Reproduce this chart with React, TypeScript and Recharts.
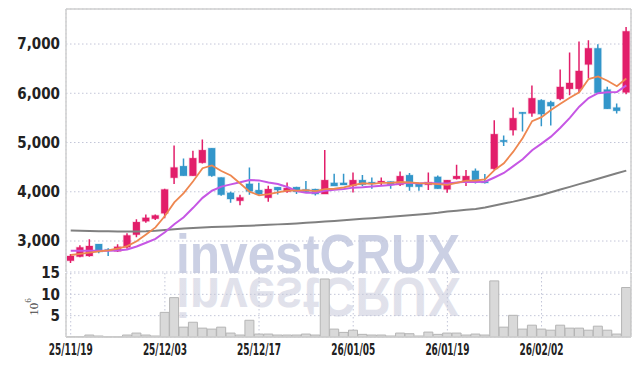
import React from "react";
import {
  ComposedChart,
  Bar,
  Line,
  XAxis,
  YAxis,
  CartesianGrid,
  ReferenceLine,
  Label,
} from "recharts";

const dates = [
  "25/11/19","25/11/20","25/11/21","25/11/24","25/11/25","25/11/26","25/11/27","25/11/28","25/12/01","25/12/02",
  "25/12/03","25/12/04","25/12/05","25/12/08","25/12/09","25/12/10","25/12/11","25/12/12","25/12/15","25/12/16",
  "25/12/17","25/12/18","25/12/19","25/12/22","25/12/23","25/12/24","25/12/26","25/12/29","25/12/30","26/01/02",
  "26/01/05","26/01/06","26/01/07","26/01/08","26/01/09","26/01/12","26/01/13","26/01/14","26/01/15","26/01/16",
  "26/01/19","26/01/20","26/01/21","26/01/22","26/01/23","26/01/26","26/01/27","26/01/28","26/01/29","26/01/30",
  "26/02/02","26/02/03","26/02/04","26/02/05","26/02/06","26/02/09","26/02/10","26/02/11","26/02/12","26/02/13",
];

const opens = [
  2600, 2682, 2696, 2939, 2830, 2791, 2872, 3128, 3400, 3452,
  3562, 4284, 4521, 4324, 4588, 4886, 4292, 3980, 3817, 4162,
  4034, 3878, 4095, 4000, 4095, 4048, 4055, 3953, 4182, 4182,
  4122, 4237, 4196, 4190, 4210, 4142, 4338, 4170, 4142, 4304,
  4048, 4263, 4210, 4426, 4210, 4466, 5048, 5251, 5616, 5590,
  5860, 5819, 5886, 6089, 6089, 6584, 6914, 6076, 5711, 6016,
];
const highs = [
  2736, 2912, 3034, 2939, 2852, 2933, 3156, 3440, 3541, 3540,
  4060, 4941, 4677, 4831, 5062, 4886, 4292, 4000, 3940, 4494,
  4182, 4122, 4095, 4190, 4100, 4217, 4060, 4846, 4365, 4365,
  4393, 4338, 4292, 4292, 4210, 4413, 4380, 4170, 4393, 4330,
  4237, 4548, 4440, 4474, 4359, 5454, 5143, 5711, 5620, 6157,
  5880, 5850, 6482, 6827, 7050, 7076, 6995, 6130, 5793, 7346,
];
const lows = [
  2554, 2670, 2682, 2750, 2696, 2777, 2844, 3075, 3371, 3426,
  3460, 4156, 4324, 4324, 4575, 4304, 3919, 3777, 3724, 3939,
  3933, 3797, 3946, 3980, 3953, 3990, 3926, 3953, 4115, 4136,
  3987, 4110, 4061, 4115, 4061, 4115, 4020, 4020, 4034, 4061,
  3980, 4250, 4115, 4170, 4170, 4440, 4927, 5143, 5225, 5521,
  5332, 5346, 5860, 5961, 6028, 6300, 6008, 5683, 5590, 5981,
];
const closes = [
  2696, 2872, 2899, 2777, 2810, 2884, 3115, 3385, 3473, 3521,
  4048, 4494, 4324, 4683, 4846, 4324, 3939, 3852, 3886, 4008,
  3953, 4055, 4034, 4075, 4000, 4000, 3953, 4237, 4115, 4136,
  4237, 4142, 4170, 4217, 4142, 4318, 4101, 4101, 4196, 4061,
  4237, 4318, 4318, 4210, 4183, 5170, 5014, 5494, 5596, 5900,
  5575, 5738, 6129, 6210, 6454, 6914, 6008, 5683, 5643, 7259,
];
// volume in millions of shares
const volumes = [
  0.1, 0.1, 0.46, 0.23, 0.05, 0.05, 0.46, 0.92, 0.46, 0.23,
  5.77, 9.23, 2.31, 3.46, 2.08, 1.85, 2.31, 0.92, 0.46, 3.92,
  0.69, 0.69, 0.46, 0.46, 0.46, 0.69, 0.46, 13.6, 1.85, 1.08,
  1.6, 0.62, 0.46, 0.46, 0.23, 0.92, 0.77, 0.23, 1.15, 0.62,
  0.92, 0.92, 0.46, 0.69, 0.46, 13.15, 2.31, 5.08, 1.85, 2.77,
  1.85, 1.6, 2.77, 2.08, 2.08, 1.6, 2.54, 1.6, 0.69, 11.6,
];
const ma5 = [
  2716, 2740, 2765, 2790, 2811, 2848, 2897, 2994, 3133, 3276,
  3508, 3784, 3972, 4214, 4479, 4534, 4423, 4329, 4169, 4002,
  3928, 3951, 3987, 4025, 4023, 4033, 4012, 4053, 4061, 4088,
  4136, 4173, 4160, 4180, 4182, 4198, 4190, 4176, 4172, 4155,
  4139, 4183, 4226, 4229, 4253, 4440, 4579, 4814, 5091, 5435,
  5516, 5661, 5788, 5910, 6021, 6289, 6343, 6254, 6142, 6301,
];
const ma10 = [
  2800, 2800, 2800, 2800, 2802, 2808, 2830, 2890, 2965, 3043,
  3178, 3341, 3483, 3674, 3877, 4021, 4104, 4150, 4192, 4240,
  4231, 4187, 4158, 4097, 4013, 3980, 3982, 4020, 4043, 4056,
  4084, 4093, 4107, 4121, 4135, 4167, 4182, 4168, 4176, 4169,
  4169, 4186, 4201, 4200, 4204, 4290, 4381, 4520, 4660, 4844,
  4978, 5120, 5301, 5501, 5728, 5902, 6002, 6021, 6025, 6161,
];
const ma60 = [
  3212, 3208, 3204, 3200, 3196, 3193, 3192, 3195, 3200, 3210,
  3225, 3240, 3253, 3264, 3274, 3283, 3290, 3296, 3303, 3310,
  3318, 3328, 3338, 3348, 3358, 3370, 3382, 3395, 3406, 3420,
  3436, 3450, 3463, 3477, 3492, 3507, 3522, 3538, 3555, 3572,
  3600, 3617, 3634, 3651, 3680, 3720, 3760, 3800, 3845, 3890,
  3935, 3990, 4045, 4100, 4155, 4210, 4265, 4320, 4375, 4430,
];

const priceTicks = [3000, 4000, 5000, 6000, 7000];
const volumeTicks = [5, 10, 15];

const rows = dates.map((date, i) => ({
  date,
  open: opens[i],
  high: highs[i],
  low: lows[i],
  close: closes[i],
  volume: volumes[i],
  ma5: ma5[i],
  ma10: ma10[i],
  ma60: ma60[i],
}));

const PINK = "#e21e6a";
const BLUE = "#3396ca";
const GRID = "#c3c6d8";
const BORDER = "#cfcfcf";
const FONT = "'Liberation Sans Narrow', 'DejaVu Sans Condensed', sans-serif";

const Candle = (props: any) => {
  const { x, y, width, height, payload } = props;
  if (!payload || x == null || y == null) return null;
  const { open, close, high, low } = payload;
  const up = close >= open;
  const color = up ? PINK : BLUE;
  const range = high - low;
  const ratio = range > 0 ? height / range : 0;
  const top = y + (high - Math.max(open, close)) * ratio;
  const bottom = y + (high - Math.min(open, close)) * ratio;
  const cx = x + width / 2;
  return (
    <g>
      <line x1={cx} x2={cx} y1={y} y2={y + height} stroke={color} strokeWidth={1.5} />
      <rect
        x={x}
        y={top}
        width={width}
        height={Math.max(bottom - top, 1.5)}
        fill={color}
        stroke={color}
        strokeOpacity={0.18}
        strokeWidth={1.5}
      />
    </g>
  );
};

const UnitLabel = (props: any) => {
  const vb = props.viewBox || {};
  const cx = (vb.x || 0) + (vb.width || 0) / 2;
  const cy = (vb.y || 0) + (vb.height || 0) / 2 + 2;
  return (
    <text
      x={cx}
      y={cy}
      transform={`rotate(-90 ${cx} ${cy})`}
      textAnchor="middle"
      dominantBaseline="central"
      fontFamily="'Liberation Serif', 'DejaVu Serif', serif"
      fontSize={13}
      fill="#444"
    >
      10
      <tspan dy={-5} fontSize={9}>
        6
      </tspan>
    </text>
  );
};

const DateTick = (props: any) => {
  const { x, y, payload } = props;
  return (
    <text
      x={x}
      y={y}
      dy="0.71em"
      textAnchor="middle"
      fontFamily={FONT}
      fontSize={15}
      fontWeight={600}
      fill="#222"
      textLength={44}
      lengthAdjust="spacingAndGlyphs"
    >
      {payload.value}
    </text>
  );
};

const tickStyle = { fontFamily: FONT, fontSize: 15, fontWeight: 600, fill: "#222" };

export default function App() {
  return (
    <div
      style={{
        position: "absolute",
        left: 0,
        top: 0,
        width: 639,
        height: 366,
        background: "#fff",
        overflow: "hidden",
      }}
    >
      <svg
        width={639}
        height={366}
        style={{ position: "absolute", left: 0, top: 0 }}
      >
        <defs>
          <linearGradient id="refl" x1="0" y1="276" x2="0" y2="318" gradientUnits="userSpaceOnUse">
            <stop offset="0" stopColor="#d9dae6" stopOpacity={0.8} />
            <stop offset="1" stopColor="#d9dae6" stopOpacity={0.25} />
          </linearGradient>
        </defs>
        <text
          x={176}
          y={273}
          fontFamily="'Liberation Sans', Arial, sans-serif"
          fontWeight="bold"
          fontSize={56}
          textLength={284}
          lengthAdjust="spacingAndGlyphs"
          fill="#cbd0e4"
        >
          investCRUX
        </text>
        <g transform="translate(0 551) scale(1 -1)">
          <text
            x={176}
            y={273}
            fontFamily="'Liberation Sans', Arial, sans-serif"
            fontWeight="bold"
            fontSize={56}
            textLength={284}
            lengthAdjust="spacingAndGlyphs"
            fill="url(#refl)"
          >
            investCRUX
          </text>
        </g>
      </svg>

      <div style={{ position: "absolute", left: 0, top: 0 }}>
        <ComposedChart
          width={639}
          height={272}
          data={rows}
          margin={{ top: 9, right: 0, bottom: 0, left: 0 }}
        >
          <CartesianGrid stroke={GRID} strokeDasharray="1.5 2.5" />
          <XAxis
            dataKey="date"
            interval={9}
            height={0}
            tick={false}
            tickLine={false}
            axisLine={false}
          />
          <YAxis
            domain={[2371, 7711]}
            ticks={priceTicks}
            interval={0}
            allowDataOverflow
            width={66}
            tickLine={false}
            tickSize={4}
            tickMargin={2}
            axisLine={{ stroke: BORDER, strokeWidth: 1.5 }}
            tick={tickStyle}
            tickFormatter={(v: number) => v.toLocaleString("en-US")}
          />
          <YAxis
            yAxisId="r"
            orientation="right"
            width={8}
            tick={false}
            tickLine={false}
            axisLine={{ stroke: BORDER, strokeWidth: 1.5 }}
          />
          <ReferenceLine y={7711} stroke={BORDER} strokeWidth={1.5} />
          <Bar
            dataKey={(d: any) => [d.low, d.high]}
            shape={Candle}
            barSize={7}
            isAnimationActive={false}
          />
          <Line
            dataKey="ma60"
            stroke="#808080"
            strokeWidth={2}
            dot={false}
            isAnimationActive={false}
          />
          <Line
            dataKey="ma10"
            stroke="#c657e4"
            strokeWidth={2}
            dot={false}
            isAnimationActive={false}
          />
          <Line
            dataKey="ma5"
            stroke="#ee8750"
            strokeWidth={1.8}
            dot={false}
            isAnimationActive={false}
          />
        </ComposedChart>
      </div>

      <div style={{ position: "absolute", left: 0, top: 262 }}>
        <ComposedChart
          width={639}
          height={104}
          data={rows}
          margin={{ top: 11, right: 0, bottom: 0, left: 0 }}
          barCategoryGap={0}
        >
          <CartesianGrid stroke={GRID} strokeDasharray="1.5 2.5" />
          <XAxis
            dataKey="date"
            interval={9}
            height={29}
            tickLine={false}
            tickSize={5}
            tickMargin={2}
            axisLine={{ stroke: BORDER, strokeWidth: 1.5 }}
            tick={DateTick}
          />
          <YAxis
            domain={[0, 15]}
            ticks={volumeTicks}
            interval={0}
            width={66}
            tickLine={false}
            tickSize={4}
            tickMargin={2}
            axisLine={{ stroke: BORDER, strokeWidth: 1.5 }}
            tick={tickStyle}
          >
            <Label content={UnitLabel} />
          </YAxis>
          <YAxis
            yAxisId="r"
            orientation="right"
            width={8}
            tick={false}
            tickLine={false}
            axisLine={{ stroke: BORDER, strokeWidth: 1.5 }}
          />
          <Bar
            dataKey="volume"
            fill="#d9d9d9"
            stroke="#b5b5b5"
            strokeWidth={1}
            isAnimationActive={false}
          />
        </ComposedChart>
      </div>
    </div>
  );
}
